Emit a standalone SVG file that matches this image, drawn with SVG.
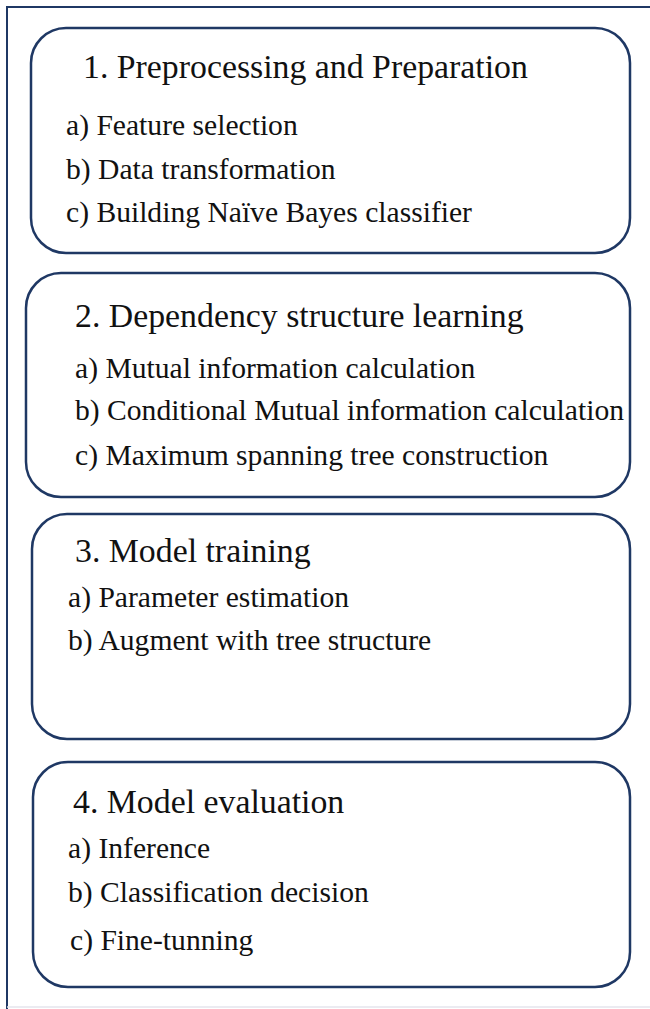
<svg xmlns="http://www.w3.org/2000/svg" width="650" height="1009" viewBox="0 0 650 1009">
<style>
.frame{fill:none;stroke:#1f3864;stroke-width:2}
.box{fill:#ffffff;stroke:#1f3864;stroke-width:2.5}
.t{font-family:"Liberation Serif","Times New Roman",serif;font-size:33.8px;fill:#111111}
.i{font-family:"Liberation Serif","Times New Roman",serif;font-size:29.6px;fill:#111111}
</style>
<rect width="650" height="1009" fill="#ffffff"/>
<path class="frame" d="M7 1009 V7 H650"/>
<line x1="7" y1="1007" x2="650" y2="1007" stroke="#e4e4ec" stroke-width="1.5"/>
<g id="step1">
<rect class="box" x="31" y="28" width="599" height="225" rx="35"/>
<text class="t" x="83" y="78">1. Preprocessing and Preparation</text>
<text class="i" x="66" y="135">a) Feature selection</text>
<text class="i" x="66" y="179">b) Data transformation</text>
<text class="i" x="66" y="222">c) Building Naïve Bayes classifier</text>
</g>
<g id="step2">
<rect class="box" x="26" y="273" width="604" height="224" rx="35"/>
<text class="t" x="75" y="327">2. Dependency structure learning</text>
<text class="i" x="75" y="378">a) Mutual information calculation</text>
<text class="i" x="75" y="420">b) Conditional Mutual information calculation</text>
<text class="i" x="75" y="465">c) Maximum spanning tree construction</text>
</g>
<g id="step3">
<rect class="box" x="32" y="514" width="598" height="225" rx="35"/>
<text class="t" x="75" y="562">3. Model training</text>
<text class="i" x="68" y="607">a) Parameter estimation</text>
<text class="i" x="68" y="650">b) Augment with tree structure</text>
</g>
<g id="step4">
<rect class="box" x="33" y="762" width="597" height="225" rx="35"/>
<text class="t" x="73" y="813">4. Model evaluation</text>
<text class="i" x="68" y="858">a) Inference</text>
<text class="i" x="68" y="902">b) Classification decision</text>
<text class="i" x="70" y="950">c) Fine-tunning</text>
</g>
<g id="connectors"></g>
</svg>
